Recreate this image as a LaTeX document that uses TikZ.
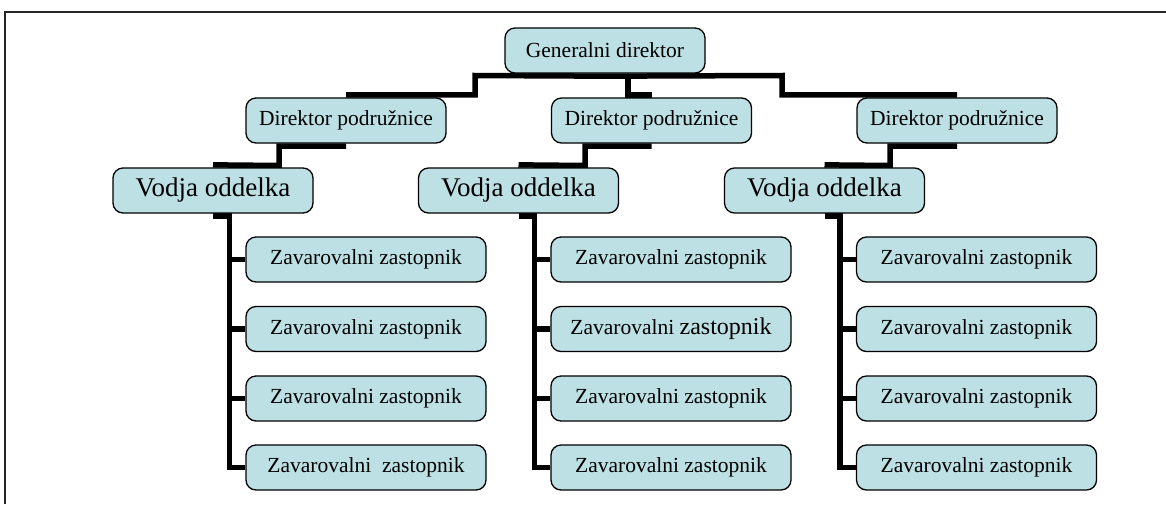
\documentclass[tikz,border=0pt]{standalone}
\usepackage{fontspec}
\setmainfont{Liberation Serif}
\usetikzlibrary{backgrounds}
\definecolor{boxfill}{RGB}{189,224,228}
\tikzset{
  orgbox/.style={draw=black, line width=1.3pt, fill=boxfill, rounded corners=10pt,
    minimum height=45pt, inner sep=0pt, font=\fontsize{21.5}{25}\selectfont},
  headbox/.style={orgbox, minimum width=200pt},
  deptbox/.style={orgbox, minimum width=200pt, font=\fontsize{27}{30}\selectfont},
  agentbox/.style={orgbox, minimum width=240pt},
  conn/.style={draw=black, line width=5.5pt, line join=miter, line cap=butt},
  frameline/.style={draw=black!85, line width=2pt}
}
\begin{document}
\begin{tikzpicture}[x=1pt, y=-1pt]
\useasboundingbox (0,0) rectangle (1166,504);
% outer frame (top and left edges)
\draw[frameline] (5,504) -- (5,11.5) -- (1166,11.5);

% top level
\node[headbox] (gd) at (605,50.5) {Generalni direktor};

% branch directors
\node[headbox] (dp1) at (346,120.5) {Direktor podružnice};
\node[headbox] (dp2) at (651.5,120.5) {Direktor podružnice};
\node[headbox] (dp3) at (957,120.5) {Direktor podružnice};

% department heads
\node[deptbox] (vo1) at (213,190.5) {Vodja oddelka};
\node[deptbox] (vo2) at (518.5,190.5) {Vodja oddelka};
\node[deptbox] (vo3) at (824.5,190.5) {Vodja oddelka};

% agents, column 1
\node[agentbox] (a11) at (366,259.5) {Zavarovalni zastopnik};
\node[agentbox] (a12) at (366,329) {Zavarovalni zastopnik};
\node[agentbox] (a13) at (366,398.5) {Zavarovalni zastopnik};
\node[agentbox] (a14) at (366,467.5) {Zavarovalni\ \ zastopnik};
% agents, column 2
\node[agentbox] (a21) at (671,259.5) {Zavarovalni zastopnik};
\node[agentbox] (a22) at (671,329) {Zavarovalni {\fontsize{24}{28}\selectfont zastopnik}};
\node[agentbox] (a23) at (671,398.5) {Zavarovalni zastopnik};
\node[agentbox] (a24) at (671,467.5) {Zavarovalni zastopnik};
% agents, column 3
\node[agentbox] (a31) at (976.5,259.5) {Zavarovalni zastopnik};
\node[agentbox] (a32) at (976.5,329) {Zavarovalni zastopnik};
\node[agentbox] (a33) at (976.5,398.5) {Zavarovalni zastopnik};
\node[agentbox] (a34) at (976.5,467.5) {Zavarovalni zastopnik};

% vertical trunks of the agent columns
\coordinate (t1) at (229.5,0);
\coordinate (t2) at (534.5,0);
\coordinate (t3) at (840,0);

\begin{scope}[on background layer]
  % general director -> branch directors
  \draw[conn] ([yshift=2.5pt]dp1.north) -| (475,75.5) -- ([yshift=-2.5pt]gd.south);
  \draw[conn] ([yshift=2.5pt]dp2.north) -| (628,75.5);
  \draw[conn] ([yshift=2.5pt]dp3.north) -| (782,75.5) -- ([yshift=-2.5pt]gd.south);

  % branch directors -> department heads
  \draw[conn] ([yshift=-2.5pt]dp1.south) -| (279,165.5) -- ([yshift=2.5pt]vo1.north);
  \draw[conn] ([yshift=-2.5pt]dp2.south) -| (585,165.5) -- ([yshift=2.5pt]vo2.north);
  \draw[conn] ([yshift=-2.5pt]dp3.south) -| (890,165.5) -- ([yshift=2.5pt]vo3.north);

  % department heads -> agents
  \draw[conn] ([yshift=-2.5pt]vo1.south) -| (t1 |- a14.west) -- (a14.west);
  \draw[conn] (t1 |- a11.west) -- (a11.west);
  \draw[conn] (t1 |- a12.west) -- (a12.west);
  \draw[conn] (t1 |- a13.west) -- (a13.west);

  \draw[conn] ([yshift=-2.5pt]vo2.south) -| (t2 |- a24.west) -- (a24.west);
  \draw[conn] (t2 |- a21.west) -- (a21.west);
  \draw[conn] (t2 |- a22.west) -- (a22.west);
  \draw[conn] (t2 |- a23.west) -- (a23.west);

  \draw[conn] ([yshift=-2.5pt]vo3.south) -| (t3 |- a34.west) -- (a34.west);
  \draw[conn] (t3 |- a31.west) -- (a31.west);
  \draw[conn] (t3 |- a32.west) -- (a32.west);
  \draw[conn] (t3 |- a33.west) -- (a33.west);
\end{scope}
\end{tikzpicture}
\end{document}
